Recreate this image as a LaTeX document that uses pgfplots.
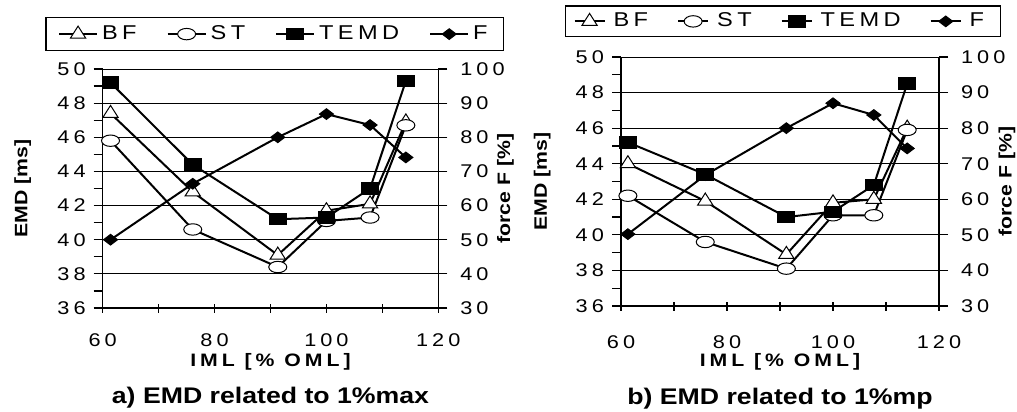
\documentclass[border=0pt]{standalone}
\usepackage{fontspec}
\setmainfont{Liberation Sans}[FakeStretch=1.18]
\newfontfamily\spc{Liberation Sans}[FakeStretch=1.18,LetterSpace=22]
\usepackage{pgfplots}
\pgfplotsset{compat=1.18}

\newcommand\tickfont{\spc\fontsize{9.2}{10}\selectfont}
\newcommand\legfont{\spc\fontsize{10}{11}\selectfont}
\newcommand\labfont{\bfseries\fontsize{9}{10}\selectfont}
\newcommand\xlabfont{\spc\bfseries\fontsize{9}{10}\selectfont}
\newcommand\titfont{\bfseries\fontsize{11.3}{12}\selectfont}

\pgfplotsset{
  sBF/.style={black, line width=1pt, mark=triangle*, mark size=4pt,
    mark options={fill=white, draw=black, line width=0.5pt, xscale=1.1}},
  sST/.style={black, line width=1pt, mark=*, mark size=2.85pt,
    mark options={fill=white, draw=black, line width=0.5pt, xscale=1.58}},
  sTEMD/.style={black, line width=1pt, mark=square*, mark size=2.85pt,
    mark options={fill=black, draw=black, line width=0.5pt, xscale=1.47}},
  sF/.style={black, line width=1pt, mark=diamond*, mark size=2.67pt,
    mark options={fill=black, draw=black, line width=0.5pt, xscale=1.75}},
  emdaxis/.style={
    scale only axis, anchor=south west, clip=false,
    xmin=60, xmax=120, ymin=36, ymax=50,
    xtick={60,80,100,120}, minor xtick={70,90,110},
    ytick={36,38,...,50}, minor ytick={37,39,...,49},
    axis x line*=bottom, axis y line*=left,
    axis line style={line width=0.7pt},
    ymajorgrids, grid style={black, line width=0.4pt},
    major tick length=4.5pt, minor tick length=4.5pt,
    tick style={black, line width=0.6pt},
    y tick style={/pgfplots/tick align=outside},
    xtick align=center,
    /pgf/number format/assume math mode=true,
    tick label style={font=\tickfont},
    yticklabel style={xshift=-5pt},
    ylabel={EMD [ms]},
    xlabel={IML [\% OML]},
    legend columns=4,
  },
  faxis/.style={
    scale only axis, anchor=south west, clip=false,
    xmin=60, xmax=120, ymin=30, ymax=100,
    ytick={30,40,...,100},
    axis x line=none, axis y line*=right,
    axis line style={line width=0.7pt},
    major tick length=4.5pt,
    tick style={black, line width=0.6pt},
    tick align=outside,
    /pgf/number format/assume math mode=true,
    tick label style={font=\tickfont},
    yticklabel style={xshift=3pt},
    ylabel={force F [\%]},
  },
}

\begin{document}
\begin{tikzpicture}
\useasboundingbox (0,0) rectangle (508.5pt,206pt);

% a) left panel
\begin{axis}[emdaxis, at={(51.35pt,52pt)}, width=167.8pt, height=119.5pt,
  xticklabel style={anchor=center, yshift=-14pt},
  xlabel style={font=\xlabfont, at={(axis description cs:0.5,0)}, anchor=center, yshift=-27pt},
  ylabel style={font=\labfont, at={(axis description cs:-0.238,0.5)}, anchor=center},
  title={a) EMD related to 1\%max},
  title style={font=\titfont, at={(axis description cs:0.5,0)}, anchor=center, yshift=-51pt},
  legend image code/.code={\draw[mark repeat=2,mark phase=2] plot coordinates {(0pt,0pt) (9.5pt,0pt) (19pt,0pt)};},
  legend style={at={(axis description cs:0.513,1.146)}, anchor=center, draw=black,
    line width=0.6pt, font=\legfont, inner xsep=6pt, inner ysep=2pt,
    nodes={inner xsep=2pt, inner ysep=2pt},
    /tikz/every even column/.append style={column sep=13pt}}]
\addplot[sBF] coordinates {(61.4,47.4) (76.1,42.8) (91.3,39.1) (100,41.7) (107.8,42.1) (114.2,46.9)};
\addlegendentry{BF}
\addplot[sST] coordinates {(61.4,45.8) (76.1,40.6) (91.3,38.4) (100,41.1) (107.8,41.3) (114.2,46.7)};
\addlegendentry{ST}
\addplot[sTEMD] coordinates {(61.4,49.2) (76.1,44.4) (91.3,41.2) (100,41.3) (107.8,43.0) (114.2,49.3)};
\addlegendentry{TEMD}
\addlegendimage{sF}
\addlegendentry{F}
\end{axis}
\begin{axis}[faxis, at={(51.35pt,52pt)}, width=167.8pt, height=119.5pt,
  ylabel style={font=\labfont, at={(axis description cs:1.2,0.5)}, anchor=center}]
\addplot[sF] coordinates {(61.4,50) (76.1,66.4) (91.3,80) (100,86.8) (107.8,83.6) (114.2,74.1)};
\end{axis}

% b) right panel
\begin{axis}[emdaxis, at={(310.5pt,53pt)}, width=159pt, height=124.5pt,
  xticklabel style={anchor=center, yshift=-16pt},
  xlabel style={font=\xlabfont, at={(axis description cs:0.5,0)}, anchor=center, yshift=-28pt},
  ylabel style={font=\labfont, at={(axis description cs:-0.248,0.5)}, anchor=center},
  title={b) EMD related to 1\%mp},
  title style={font=\titfont, at={(axis description cs:0.5,0)}, anchor=center, yshift=-52.5pt},
  legend image code/.code={\draw[mark repeat=2,mark phase=2] plot coordinates {(0pt,0pt) (7.5pt,0pt) (15pt,0pt)};},
  legend style={at={(axis description cs:0.509,1.143)}, anchor=center, draw=black,
    line width=0.6pt, font=\legfont, inner xsep=4pt, inner ysep=1.5pt,
    nodes={inner xsep=4pt, inner ysep=2pt},
    /tikz/every even column/.append style={column sep=10.5pt}}]
\addplot[sBF] coordinates {(61.3,44.0) (75.9,41.9) (91.2,38.9) (100,41.8) (107.7,42.0) (114,46.0)};
\addlegendentry{BF}
\addplot[sST] coordinates {(61.3,42.2) (75.9,39.6) (91.2,38.1) (100,41.1) (107.7,41.1) (114,45.9)};
\addlegendentry{ST}
\addplot[sTEMD] coordinates {(61.3,45.2) (75.9,43.4) (91.2,41.0) (100,41.3) (107.7,42.8) (114,48.5)};
\addlegendentry{TEMD}
\addlegendimage{sF}
\addlegendentry{F}
\end{axis}
\begin{axis}[faxis, at={(310.5pt,53pt)}, width=159pt, height=124.5pt,
  ylabel style={font=\labfont, at={(axis description cs:1.214,0.5)}, anchor=center}]
\addplot[sF] coordinates {(61.3,50.2) (75.9,66.8) (91.2,80) (100,87) (107.7,83.7) (114,74.3)};
\end{axis}
\end{tikzpicture}
\end{document}
